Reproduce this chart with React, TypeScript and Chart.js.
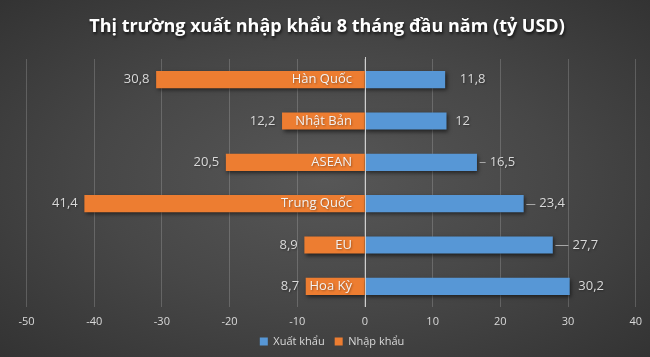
import React, { useEffect, useRef } from "react";
import { Chart, registerables } from "chart.js";

Chart.register(...registerables);

const title = "Thị trường xuất nhập khẩu 8 tháng đầu năm (tỷ USD)";
const categories = ["Hàn Quốc", "Nhật Bản", "ASEAN", "Trung Quốc", "EU", "Hoa Kỳ"];
const exportValues = [11.8, 12, 16.5, 23.4, 27.7, 30.2];
const importValues = [30.8, 12.2, 20.5, 41.4, 8.9, 8.7];
const seriesNames = ["Xuất khẩu", "Nhập khẩu"];
const xMin = -50;
const xMax = 40;
const xStep = 10;

const FONT = "'Open Sans', 'Noto Sans', sans-serif";
const BLUE = "#5797d6";
const ORANGE = "#ed7d31";
const LABEL = "#d9d9d9";

// styling for data labels (gaps in px, leader lines)
const exportLabelGap = [15, 9, 13, 16, 20, 9];
const exportLeader = [false, false, true, true, true, false];
const importLabelGap = 7;

const fmt = (v: number) => String(Math.abs(v)).replace(".", ",");

export default function App() {
  const ref = useRef<HTMLCanvasElement | null>(null);

  useEffect(() => {
    const canvas = ref.current!;
    const customPlugin = {
      id: "custom",
      beforeDatasetsDraw(chart: any) {
        const ctx = chart.ctx;
        ctx.save();
        ctx.shadowColor = "rgba(0,0,0,0.55)";
        ctx.shadowBlur = 4;
        ctx.shadowOffsetX = 1.5;
        ctx.shadowOffsetY = 2;
      },
      afterDatasetsDraw(chart: any) {
        const ctx = chart.ctx;
        ctx.restore();
        const area = chart.chartArea;
        const xs = chart.scales.x;
        const zero = xs.getPixelForValue(0);
        // zero axis line
        ctx.save();
        ctx.strokeStyle = "#cfcfcf";
        ctx.lineWidth = 1;
        ctx.beginPath();
        ctx.moveTo(Math.round(zero) + 0.5, area.top - 2);
        ctx.lineTo(Math.round(zero) + 0.5, area.bottom);
        ctx.stroke();
        ctx.restore();

        const metaExp = chart.getDatasetMeta(0);
        const metaImp = chart.getDatasetMeta(1);
        ctx.save();
        ctx.font = `13px ${FONT}`;
        ctx.textBaseline = "middle";
        ctx.shadowColor = "rgba(0,0,0,0.35)";
        ctx.shadowBlur = 2;
        ctx.shadowOffsetX = 1;
        ctx.shadowOffsetY = 1;
        categories.forEach((cat, i) => {
          const eb = metaExp.data[i];
          const ib = metaImp.data[i];
          const y = eb.y;
          // category label inside import bar
          ctx.fillStyle = "#f2f2f2";
          ctx.textAlign = "right";
          ctx.fillText(cat, zero - 13, y);
          // import value
          ctx.fillStyle = LABEL;
          ctx.textAlign = "right";
          ctx.fillText(fmt(importValues[i]), ib.x - importLabelGap, y);
          // export value
          ctx.textAlign = "left";
          const lx = eb.x + exportLabelGap[i];
          ctx.fillText(fmt(exportValues[i]), lx, y);
          if (exportLeader[i]) {
            ctx.save();
            ctx.shadowColor = "transparent";
            ctx.strokeStyle = "#a6a6a6";
            ctx.lineWidth = 1;
            ctx.beginPath();
            ctx.moveTo(eb.x + 3, Math.round(y) + 0.5);
            ctx.lineTo(lx - 4, Math.round(y) + 0.5);
            ctx.stroke();
            ctx.restore();
          }
        });
        ctx.restore();
      },
      afterDraw(chart: any) {
        const ctx = chart.ctx;
        ctx.save();
        ctx.font = `bold 18px ${FONT}`;
        ctx.textAlign = "center";
        ctx.textBaseline = "middle";
        ctx.shadowColor = "rgba(0,0,0,0.7)";
        ctx.shadowBlur = 3;
        ctx.shadowOffsetX = 1;
        ctx.shadowOffsetY = 1.5;
        ctx.fillStyle = "#ffffff";
        ctx.fillText(title, chart.width / 2 + 2, 27);
        ctx.restore();
      },
    };

    const chart = new Chart(canvas, {
      type: "bar",
      data: {
        labels: categories,
        datasets: [
          {
            label: seriesNames[0],
            data: exportValues,
            backgroundColor: BLUE,
            borderWidth: 0,
            barThickness: 16.5,
          },
          {
            label: seriesNames[1],
            data: importValues.map((v) => -v),
            backgroundColor: ORANGE,
            borderWidth: 0,
            barThickness: 16.5,
          },
        ],
      },
      options: {
        indexAxis: "y",
        responsive: false,
        animation: false,
        layout: { padding: { top: 59, left: 26.5, right: 12.4, bottom: 0 } },
        scales: {
          x: {
            stacked: true,
            min: xMin,
            max: xMax,
            afterFit: (scale: any) => {
              scale.height = 19;
            },
            ticks: {
              stepSize: xStep,
              color: LABEL,
              font: { family: FONT, size: 11 },
              padding: 8,
            },
            grid: {
              color: "rgba(255,255,255,0.18)",
              drawTicks: false,
            },
            border: { display: false },
          },
          y: {
            stacked: true,
            display: false,
          },
        },
        plugins: {
          title: { display: false },
          tooltip: { enabled: false },
          legend: {
            position: "bottom",
            labels: {
              color: LABEL,
              font: { family: FONT, size: 11 },
              boxWidth: 8,
              boxHeight: 8,
              padding: 10,
            },
          },
        },
      },
      plugins: [customPlugin],
    } as any);
    return () => chart.destroy();
  }, []);

  return (
    <div
      style={{
        position: "fixed",
        left: 0,
        top: 0,
        width: 650,
        height: 357,
        background: "radial-gradient(ellipse at 50% 50%, #575757 0%, #474747 50%, #333333 100%)",
      }}
    >
      <canvas ref={ref} width={650} height={357} style={{ display: "block" }} />
    </div>
  );
}
